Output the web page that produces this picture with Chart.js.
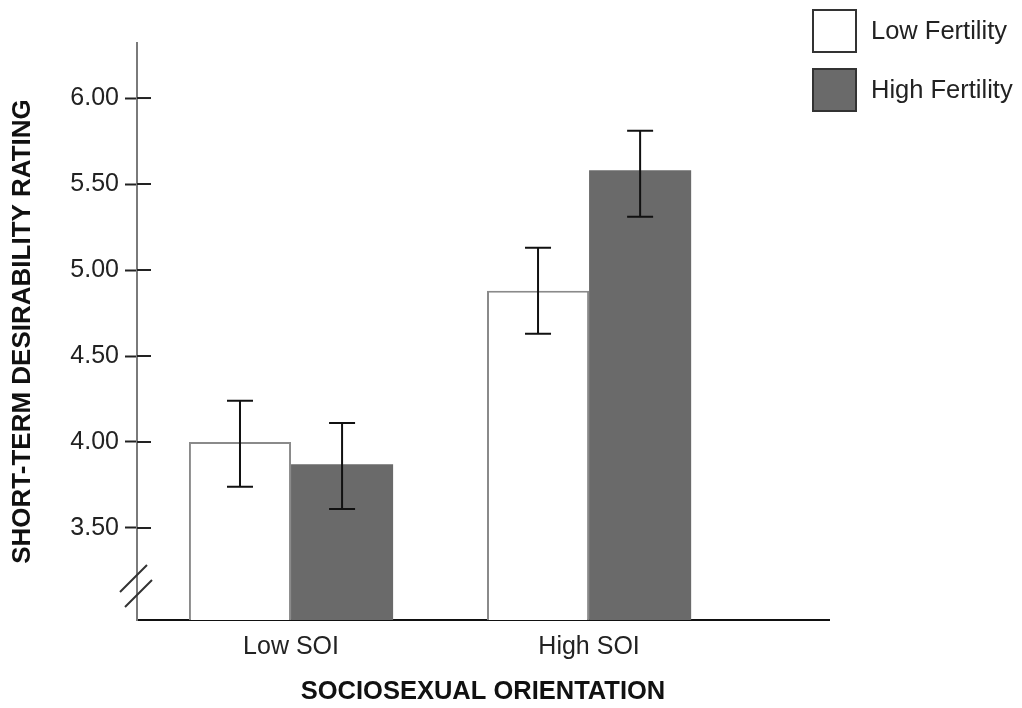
<!DOCTYPE html>
<html>
<head>
<meta charset="utf-8">
<script src="https://cdn.jsdelivr.net/npm/chart.js@4"></script>
<style>
  html, body { margin: 0; padding: 0; background: #fff; }
  #wrap { width: 1022px; height: 708px; }
</style>
</head>
<body>
<div id="wrap"><canvas id="myChart"></canvas></div>
<script>
const categories = ["Low SOI", "High SOI"];
const seriesLabels = ["Low Fertility", "High Fertility"];
const lowFertility = [4.00, 4.88];
const highFertility = [3.87, 5.58];
const lowFertilityErrLow = [3.74, 4.63];
const lowFertilityErrHigh = [4.24, 5.13];
const highFertilityErrLow = [3.61, 5.31];
const highFertilityErrHigh = [4.11, 5.81];
const yTicks = [3.5, 4.0, 4.5, 5.0, 5.5, 6.0];

const FONT = "'Liberation Sans', Arial, sans-serif";
const DARK = "#6a6a6a";

const errors = [
  { low: lowFertilityErrLow, high: lowFertilityErrHigh },
  { low: highFertilityErrLow, high: highFertilityErrHigh },
];

// error bars from the y scale
const errorBars = {
  id: "errorBars",
  afterDatasetsDraw(chart) {
    const ctx = chart.ctx;
    const y = chart.scales.y;
    ctx.save();
    ctx.strokeStyle = "#111";
    ctx.lineWidth = 2;
    chart.data.datasets.forEach((ds, i) => {
      const meta = chart.getDatasetMeta(i);
      meta.data.forEach((bar, j) => {
        const yl = y.getPixelForValue(errors[i].low[j]);
        const yh = y.getPixelForValue(errors[i].high[j]);
        const x = bar.x;
        ctx.beginPath();
        ctx.moveTo(x, yl); ctx.lineTo(x, yh);
        ctx.moveTo(x - 13, yl); ctx.lineTo(x + 13, yl);
        ctx.moveTo(x - 13, yh); ctx.lineTo(x + 13, yh);
        ctx.stroke();
      });
    });
    ctx.restore();
  },
};

// inner halves of the y ticks, axis break and legend
const extras = {
  id: "extras",
  afterDraw(chart) {
    const ctx = chart.ctx;
    const { left, bottom } = chart.chartArea;
    const y = chart.scales.y;
    ctx.save();
    ctx.strokeStyle = "#222";
    ctx.lineWidth = 2;
    y.ticks.forEach((t) => {
      const py = y.getPixelForValue(t.value);
      ctx.beginPath();
      ctx.moveTo(left, py); ctx.lineTo(left + 14, py);
      ctx.stroke();
    });
    // break marks
    ctx.strokeStyle = "#333";
    ctx.beginPath();
    ctx.moveTo(left - 17, bottom - 28); ctx.lineTo(left + 10, bottom - 55);
    ctx.moveTo(left - 12, bottom - 13); ctx.lineTo(left + 15, bottom - 40);
    ctx.stroke();
    // legend
    ctx.font = "25.5px " + FONT;
    ctx.textBaseline = "middle";
    ctx.textAlign = "left";
    chart.data.datasets.forEach((ds, i) => {
      const bx = 813, by = 10 + i * 59;
      ctx.fillStyle = ds.backgroundColor;
      ctx.fillRect(bx, by, 43, 42);
      ctx.strokeStyle = "#333";
      ctx.strokeRect(bx, by, 43, 42);
      ctx.fillStyle = "#222";
      ctx.fillText(ds.label, 871, by + 22);
    });
    ctx.restore();
  },
};

const data = {
  datasets: [
    {
      label: seriesLabels[0],
      data: categories.map((c, i) => ({ x: i, y: lowFertility[i] })),
      backgroundColor: "#ffffff",
      borderColor: "#8a8a8a",
      borderWidth: 2,
    },
    {
      label: seriesLabels[1],
      data: categories.map((c, i) => ({ x: i, y: highFertility[i] })),
      backgroundColor: DARK,
      borderColor: DARK,
      borderWidth: 0,
    },
  ],
};

const config = {
  type: "bar",
  data: data,
  options: {
    responsive: true,
    maintainAspectRatio: false,
    animation: false,
    categoryPercentage: 0.685,
    barPercentage: 1.0,
    layout: { padding: { top: 43, right: 193, bottom: 0, left: 0 } },
    plugins: {
      legend: { display: false },
      tooltip: { enabled: false },
    },
    scales: {
      x: {
        type: "linear",
        offset: false,
        min: -0.5168,
        max: 1.805,
        afterBuildTicks: (s) => { s.ticks = categories.map((c, i) => ({ value: i })); },
        afterFit: (s) => { s.height = 88; },
        grid: { display: false, drawTicks: false, offset: false },
        border: { color: "#111", width: 2 },
        ticks: {
          padding: 12,
          color: "#222",
          font: { family: FONT, size: 25 },
          callback: (v) => categories[v],
          maxRotation: 0,
        },
        title: {
          display: true,
          text: "SOCIOSEXUAL ORIENTATION",
          color: "#111",
          font: { family: FONT, size: 25.5, weight: "bold" },
          padding: { top: 0, bottom: 1 },
        },
      },
      y: {
        min: 2.965,
        max: 6.32,
        afterBuildTicks: (s) => { s.ticks = yTicks.map((v) => ({ value: v })); },
        afterFit: (s) => { s.width = 137; },
        grid: { drawOnChartArea: false, drawTicks: true, tickLength: 12, tickColor: "#222", tickWidth: 2 },
        border: { color: "#7a7a7a", width: 2 },
        ticks: {
          padding: 6,
          color: "#222",
          font: { family: FONT, size: 25 },
          callback: (v) => v.toFixed(2),
        },
        title: {
          display: true,
          text: "SHORT-TERM DESIRABILITY RATING",
          color: "#111",
          font: { family: FONT, size: 26, weight: "bold" },
          padding: { top: 7, bottom: 0 },
        },
      },
    },
  },
  plugins: [errorBars, extras],
};

new Chart(document.getElementById("myChart").getContext("2d"), config);
</script>
</body>
</html>
